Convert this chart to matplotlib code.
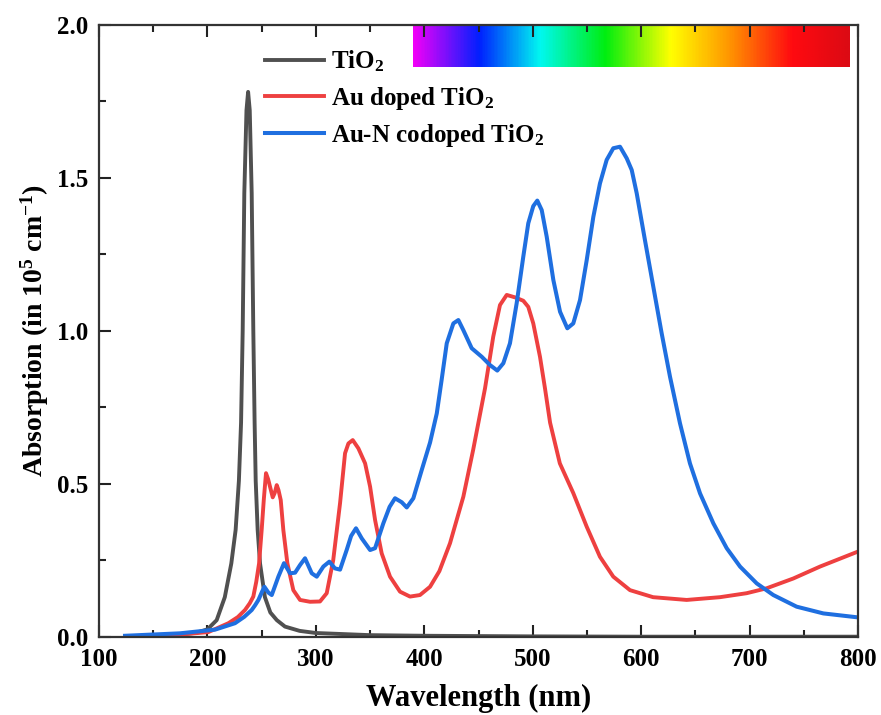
import numpy as np
import matplotlib
matplotlib.use("Agg")
import matplotlib.pyplot as plt
from matplotlib.colors import LinearSegmentedColormap

# values (wavelength nm, absorption in 1e5 cm^-1)
tio2_x = [125, 150, 175, 190, 200, 208.5, 216, 222, 226, 229, 231, 232.5, 234, 236, 237.5,
          239, 240.8, 242.3, 243.5, 244.5, 246.3, 248.5, 253, 258, 264, 271.5, 285, 300, 350,
          400, 500, 600, 700, 800]
tio2_y = [0.0, 0.004, 0.008, 0.014, 0.025, 0.055, 0.13, 0.24, 0.35, 0.51, 0.70, 1.0, 1.45, 1.72,
          1.78, 1.72, 1.45, 1.0, 0.70, 0.51, 0.35, 0.24, 0.13, 0.08, 0.055, 0.034, 0.02, 0.013,
          0.006, 0.004, 0.002, 0.001, 0.001, 0.001]

au_x = [125, 150, 175, 200.8, 219.3, 228, 234.6, 239, 242.3, 245, 247.6, 250, 252, 254, 256,
        257.7, 260.2, 262, 263.9, 265.5, 267.6, 270, 273.7, 279.2, 285.4, 294.6, 303.8, 310,
        316, 322.3, 326.9, 330, 334, 339.2, 345.4, 350, 354.6, 360.7, 368.4, 377.6, 386.8, 396,
        405.3, 413.9, 423.7, 436, 445, 456, 463.6, 469.8, 476, 483.7, 491.3, 495.9, 500.5,
        506.7, 511.3, 516, 525, 537.4, 549.8, 562, 574.3, 589.7, 611, 642, 672.7, 697.3, 715.7,
        740.3, 765, 800]
au_y = [0.002, 0.004, 0.008, 0.016, 0.045, 0.065, 0.088, 0.11, 0.132, 0.18, 0.24, 0.349, 0.45,
        0.535, 0.515, 0.491, 0.456, 0.47, 0.496, 0.48, 0.447, 0.349, 0.241, 0.153, 0.121, 0.115,
        0.116, 0.143, 0.251, 0.437, 0.60, 0.632, 0.643, 0.616, 0.567, 0.491, 0.382, 0.273,
        0.197, 0.148, 0.132, 0.137, 0.164, 0.215, 0.306, 0.458, 0.61, 0.812, 0.981, 1.084,
        1.117, 1.109, 1.098, 1.078, 1.024, 0.915, 0.812, 0.70, 0.567, 0.47, 0.36, 0.262, 0.197,
        0.153, 0.13, 0.121, 0.13, 0.143, 0.159, 0.191, 0.23, 0.279]

aun_x = [124, 174.7, 207, 225.4, 234, 240.8, 244, 247, 250, 252.5, 256.2, 259.3, 265.4, 270.6,
         276.2, 280.8, 285.4, 290, 296.2, 300.8, 306.9, 312.4, 317.6, 322.3, 328.4, 332.5, 337,
         342.3, 350, 354.6, 362.2, 368, 373, 379.2, 383.8, 389.9, 397.6, 405.3, 411.5, 416,
         420.7, 426.8, 431.4, 436, 443.7, 453, 460.6, 467.3, 472.9, 479, 485.2, 491.3, 495.9,
         500.5, 504.2, 508.3, 512.9, 519, 525.2, 531.9, 537.4, 543.6, 549.8, 555.9, 562, 568.2,
         574.3, 580.5, 586.7, 591.3, 595.9, 603.5, 611.2, 618.9, 626.6, 635.8, 645, 654.3, 666.6,
         678.9, 691.2, 706.6, 721.9, 743.4, 768, 800]
aun_y = [0.004, 0.012, 0.024, 0.045, 0.066, 0.088, 0.104, 0.121, 0.145, 0.164, 0.145, 0.137,
         0.197, 0.241, 0.208, 0.21, 0.235, 0.257, 0.208, 0.197, 0.23, 0.246, 0.224, 0.22, 0.284,
         0.33, 0.355, 0.322, 0.284, 0.29, 0.371, 0.425, 0.453, 0.44, 0.423, 0.453, 0.545, 0.635,
         0.73, 0.84, 0.959, 1.024, 1.035, 1.002, 0.943, 0.915, 0.888, 0.87, 0.894, 0.959,
         1.09, 1.242, 1.351, 1.407, 1.425, 1.394, 1.307, 1.166, 1.062, 1.008, 1.024, 1.10, 1.231,
         1.372, 1.481, 1.558, 1.596, 1.601, 1.563, 1.525, 1.449, 1.296, 1.144, 0.992, 0.85,
         0.698, 0.567, 0.469, 0.371, 0.29, 0.23, 0.175, 0.137, 0.099, 0.077, 0.064]

labels = ["TiO$_2$", "Au doped TiO$_2$", "Au-N codoped TiO$_2$"]

plt.rcParams['font.family'] = ['Liberation Serif', 'DejaVu Serif']
plt.rcParams['font.weight'] = 'bold'
plt.rcParams['mathtext.fontset'] = 'custom'
plt.rcParams['mathtext.rm'] = 'Liberation Serif:bold'
plt.rcParams['mathtext.it'] = 'Liberation Serif:bold'

fig = plt.figure(figsize=(8.81, 7.15), dpi=100)
ax = fig.add_axes([0.1124, 0.1091, 0.8615, 0.8566])

# visible spectrum strip
spec = LinearSegmentedColormap.from_list("spec", [
    (0.0, "#f000f8"), (0.15, "#0020ff"), (0.29, "#00f8f0"), (0.44, "#00ee10"),
    (0.59, "#ffff00"), (0.72, "#ff9a00"), (0.87, "#ff0a10"), (1.0, "#dc0a14")])
ax.imshow(np.linspace(0, 1, 400).reshape(1, -1), cmap=spec, aspect='auto',
          extent=[390, 793, 1.86, 2.0], zorder=0)

ax.plot(tio2_x, tio2_y, color="#505050", lw=2.8, label=labels[0])
ax.plot(au_x, au_y, color="#ee4040", lw=2.8, label=labels[1])
ax.plot(aun_x, aun_y, color="#1f6fe0", lw=2.9, label=labels[2])

ax.set_xlim(100, 800)
ax.set_ylim(0, 2.0)
ax.set_xticks(np.arange(100, 801, 100))
ax.set_xticks(np.arange(150, 800, 100), minor=True)
ax.set_yticks([0.0, 0.5, 1.0, 1.5, 2.0])
ax.set_yticks([0.25, 0.75, 1.25, 1.75], minor=True)
ax.tick_params(which='both', direction='in', top=True, right=False, width=1.5, color="#222222")
ax.tick_params(which='major', length=8.5, labelsize=18, pad=8)
ax.tick_params(which='minor', length=5)
for s in ax.spines.values():
    s.set_linewidth(1.6)
    s.set_color("#333333")

ax.set_xlabel("Wavelength (nm)", fontsize=22, fontweight='bold', labelpad=9)
ax.set_ylabel("Absorption (in 10$^5$ cm$^{-1}$)", fontsize=20, fontweight='bold', labelpad=4)

ax.legend(loc='upper left', bbox_to_anchor=(0.206, 0.977), frameon=False, fontsize=18,
          handlelength=2.35, handletextpad=0.28, labelspacing=0.42, borderaxespad=0)

fig.savefig("out.png", dpi=100)
